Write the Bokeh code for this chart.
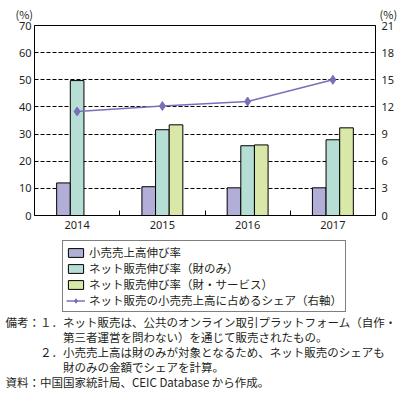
from bokeh.plotting import figure
from bokeh.models import (ColumnDataSource, Range1d, LinearAxis, FixedTicker,
                          Legend, LegendItem, Title)
from bokeh.layouts import column
from bokeh.transform import dodge
from bokeh.embed import file_html
from bokeh.resources import INLINE

# ---- data ----
years = ["2014", "2015", "2016", "2017"]
retail_growth = [12.0, 10.6, 10.2, 10.2]
net_goods_growth = [49.7, 31.6, 25.7, 27.9]
net_goods_services_growth = [None, 33.4, 26.0, 32.3]
net_share = [11.5, 12.1, 12.6, 15.0]

left_ticks = [0, 10, 20, 30, 40, 50, 60, 70]
right_ticks = [0, 3, 6, 9, 12, 15, 18, 21]
unit_label = "(%)"

labels = ["小売売上高伸び率", "ネット販売伸び率（財のみ）",
          "ネット販売伸び率（財・サービス）", "ネット販売の小売売上高に占めるシェア（右軸）"]
IS = "\u3000"  # ideographic space used for indentation
notes = ["備考：１．ネット販売は、公共のオンライン取引プラットフォーム（自作・",
         IS * 5 + "第三者運営を問わない）を通じて販売されたもの。",
         IS * 3 + "２．小売売上高は財のみが対象となるため、ネット販売のシェアも",
         IS * 5 + "財のみの金額でシェアを計算。",
         "資料：中国国家統計局、CEIC Database から作成。"]

CJK = "Noto Sans CJK JP"
NUM = "Noto Sans"
TXT = "#231f20"
FW = 341  # frame width shared by all stacked figures

xs = [i + 0.5 for i in range(len(years))]
src = ColumnDataSource(dict(x=xs, r=retail_growth, g=net_goods_growth, s=net_share))
gs_x = [x for x, v in zip(xs, net_goods_services_growth) if v is not None]
gs_v = [v for v in net_goods_services_growth if v is not None]
src_gs = ColumnDataSource(dict(x=gs_x, v=gs_v))

# ---------------- main chart ----------------
p = figure(frame_width=FW, frame_height=190, output_backend="svg", toolbar_location=None,
           x_range=Range1d(0, len(years)), y_range=Range1d(0, 70),
           min_border_left=34, min_border_right=34, min_border_top=25,
           min_border_bottom=17)
p.extra_y_ranges = {"right": Range1d(0, 21)}
p.outline_line_color = "black"
p.outline_line_width = 1

p.title.text = unit_label + IS * 31 + "\u2002" + unit_label
p.title.align = "left"
p.title.offset = -19
p.title.text_font = CJK
p.title.text_font_size = "11px"
p.title.text_font_style = "normal"
p.title.text_color = TXT
p.title.standoff = 7

p.xgrid.visible = False
p.ygrid.ticker = FixedTicker(ticks=left_ticks[1:-1])
p.ygrid.grid_line_color = "black"
p.ygrid.grid_line_dash = "4 2"
p.ygrid.grid_line_width = 1

xa = p.xaxis[0]
xa.ticker = FixedTicker(ticks=xs, minor_ticks=[1, 2, 3])
xa.major_label_overrides = {x: y for x, y in zip(xs, years)}
xa.major_tick_in = 0
xa.major_tick_out = 0
xa.minor_tick_in = 5
xa.minor_tick_out = 0
xa.minor_tick_line_color = "black"
xa.axis_line_color = "black"
xa.major_label_standoff = 5
xa.major_label_text_font = NUM
xa.major_label_text_font_size = "11px"
xa.major_label_text_color = TXT

ya = p.yaxis[0]
ya.ticker = FixedTicker(ticks=left_ticks)
ya.major_tick_in = 0
ya.major_tick_out = 0
ya.minor_tick_line_color = None
ya.axis_line_color = "black"
ya.major_label_standoff = 3
ya.major_label_text_font = NUM
ya.major_label_text_font_size = "11px"
ya.major_label_text_color = TXT

ra = LinearAxis(y_range_name="right", ticker=FixedTicker(ticks=right_ticks))
ra.major_tick_in = 0
ra.major_tick_out = 0
ra.minor_tick_line_color = None
ra.axis_line_color = "black"
ra.major_label_standoff = 6
ra.major_label_text_font = NUM
ra.major_label_text_font_size = "11px"
ra.major_label_text_color = TXT
p.add_layout(ra, "right")

bw = 0.16
c1, c2, c3 = "#b1aed8", "#b6ded5", "#d9e8a9"
lc = "#7770b9"
p.vbar(x=dodge("x", -bw, range=p.x_range), top="r", width=bw, source=src,
       fill_color=c1, line_color="black", line_width=1)
p.vbar(x=dodge("x", 0, range=p.x_range), top="g", width=bw, source=src,
       fill_color=c2, line_color="black", line_width=1)
p.vbar(x=dodge("x", bw, range=p.x_range), top="v", width=bw, source=src_gs,
       fill_color=c3, line_color="black", line_width=1)
p.line(x="x", y="s", source=src, y_range_name="right", line_color=lc, line_width=1.5)
p.scatter(x="x", y="s", source=src, y_range_name="right", marker="diamond",
          size=9, fill_color=lc, line_color=lc)

# ---------------- legend strip ----------------
LH = 81
lg = figure(frame_width=FW, frame_height=LH, output_backend="svg", toolbar_location=None,
            x_range=Range1d(0, FW), y_range=Range1d(0, LH),
            x_axis_type=None, y_axis_type=None, title=None,
            min_border_left=34, min_border_right=34, min_border_top=0,
            min_border_bottom=0, outline_line_color=None)
lg.grid.visible = False
# legend keys (placed outside the visible range, only their legend glyphs show)
key = ColumnDataSource(dict(x=[-1000], y=[-1000], top=[-1000]))
k1 = lg.vbar(x="x", top="top", width=1, source=key, fill_color=c1, line_color="black")
k2 = lg.vbar(x="x", top="top", width=1, source=key, fill_color=c2, line_color="black")
k3 = lg.vbar(x="x", top="top", width=1, source=key, fill_color=c3, line_color="black")
k4 = lg.line(x="x", y="y", source=key, line_color=lc, line_width=1.5)
k5 = lg.scatter(x="x", y="y", source=key, marker="diamond", size=9,
                fill_color=lc, line_color=lc)
legend = Legend(items=[LegendItem(label=labels[0], renderers=[k1]),
                       LegendItem(label=labels[1], renderers=[k2]),
                       LegendItem(label=labels[2], renderers=[k3]),
                       LegendItem(label=labels[3], renderers=[k4, k5])],
                location=(28, 1), orientation="vertical",
                border_line_color="black", border_line_width=1,
                background_fill_color="white", background_fill_alpha=1,
                padding=3, spacing=0, margin=0,
                glyph_width=19, glyph_height=11, label_height=13,
                label_standoff=4,
                label_text_font=CJK, label_text_font_size="11.5px",
                label_text_color=TXT)
lg.add_layout(legend, "center")

# ---------------- notes strip (titles stacked above a 1px frame) ----------------
nt = figure(frame_width=FW, frame_height=1, output_backend="svg", toolbar_location=None,
            x_range=Range1d(0, 1), y_range=Range1d(0, 1),
            x_axis_type=None, y_axis_type=None,
            min_border_left=34, min_border_right=34, min_border_top=0,
            min_border_bottom=0, outline_line_color=None)
nt.grid.visible = False


def style_title(t):
    t.align = "left"
    t.offset = -29
    t.standoff = -3
    t.text_font = CJK
    t.text_font_size = "11.5px"
    t.text_font_style = "normal"
    t.text_color = TXT


# the plot's own title is the outermost (top) line; added titles stack
# from the frame outward, so add them bottom line first
nt.title.text = notes[0]
style_title(nt.title)
for line in reversed(notes[1:]):
    t = Title(text=line)
    style_title(t)
    nt.add_layout(t, "above")

layout = column(p, lg, nt, spacing=0)
open("out.html", "w").write(file_html(layout, INLINE))
